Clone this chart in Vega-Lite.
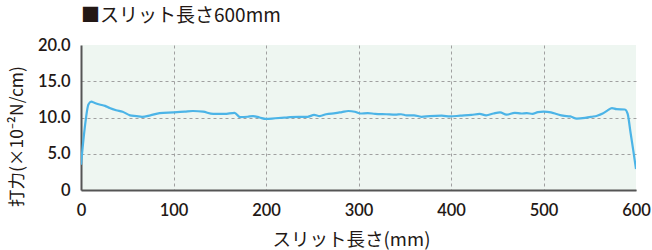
{
  "$schema": "https://vega.github.io/schema/vega-lite/v6.json",
  "autosize": "none",
  "width": 555,
  "height": 145,
  "padding": {"left": 81, "top": 45, "right": 16, "bottom": 60},
  "background": "white",
  "title": {
    "text": "■スリット長さ600mm",
    "anchor": "start",
    "frame": "group",
    "font": "Noto Sans CJK JP",
    "fontSize": 19,
    "fontWeight": 400,
    "color": "#231815",
    "offset": 11,
    "dx": 0
  },
  "config": {
    "view": {"fill": "#eef6f1", "stroke": null},
    "axis": {
      "labelFont": "Lato",
      "labelFontSize": 16.5,
      "labelFontWeight": 600,
      "labelColor": "#231815",
      "titleFont": "Noto Sans CJK JP",
      "titleFontSize": 16.5,
      "titleFontWeight": 400,
      "titleColor": "#231815",
      "ticks": false,
      "domainColor": "#555555",
      "domainWidth": 2,
      "gridDash": [3, 3],
      "gridWidth": 1
    }
  },
  "data": {
    "values": [
      {"x": 0, "y": 3.5},
      {"x": 4, "y": 8.5},
      {"x": 8, "y": 11.8},
      {"x": 11, "y": 12.2},
      {"x": 15, "y": 12.0},
      {"x": 20, "y": 11.8},
      {"x": 26, "y": 11.6},
      {"x": 31, "y": 11.3},
      {"x": 38, "y": 11.0},
      {"x": 45, "y": 10.8},
      {"x": 53, "y": 10.3},
      {"x": 60, "y": 10.2},
      {"x": 66, "y": 10.1},
      {"x": 75, "y": 10.3},
      {"x": 85, "y": 10.6},
      {"x": 100, "y": 10.7},
      {"x": 112, "y": 10.8},
      {"x": 121, "y": 10.9},
      {"x": 132, "y": 10.8},
      {"x": 143, "y": 10.5},
      {"x": 155, "y": 10.5},
      {"x": 166, "y": 10.65},
      {"x": 172, "y": 10.05},
      {"x": 180, "y": 10.1},
      {"x": 186, "y": 10.2},
      {"x": 193, "y": 10.0},
      {"x": 200, "y": 9.8},
      {"x": 210, "y": 9.9},
      {"x": 222, "y": 10.0},
      {"x": 235, "y": 10.1},
      {"x": 245, "y": 10.1},
      {"x": 252, "y": 10.35},
      {"x": 258, "y": 10.2},
      {"x": 265, "y": 10.45},
      {"x": 275, "y": 10.6},
      {"x": 282, "y": 10.75},
      {"x": 289, "y": 10.9},
      {"x": 296, "y": 10.8},
      {"x": 302, "y": 10.55},
      {"x": 310, "y": 10.6},
      {"x": 318, "y": 10.5},
      {"x": 330, "y": 10.45},
      {"x": 340, "y": 10.4},
      {"x": 346, "y": 10.45},
      {"x": 352, "y": 10.3},
      {"x": 360, "y": 10.3},
      {"x": 368, "y": 10.1},
      {"x": 377, "y": 10.2},
      {"x": 390, "y": 10.25},
      {"x": 399, "y": 10.15},
      {"x": 410, "y": 10.25},
      {"x": 422, "y": 10.35},
      {"x": 431, "y": 10.5},
      {"x": 438, "y": 10.3},
      {"x": 446, "y": 10.55},
      {"x": 453, "y": 10.7},
      {"x": 460, "y": 10.4},
      {"x": 469, "y": 10.65},
      {"x": 476, "y": 10.55},
      {"x": 482, "y": 10.6},
      {"x": 488, "y": 10.5},
      {"x": 494, "y": 10.75},
      {"x": 500, "y": 10.8},
      {"x": 508, "y": 10.7},
      {"x": 515, "y": 10.45},
      {"x": 521, "y": 10.25},
      {"x": 529, "y": 10.15},
      {"x": 536, "y": 9.85},
      {"x": 545, "y": 9.95},
      {"x": 552, "y": 10.1},
      {"x": 558, "y": 10.25},
      {"x": 564, "y": 10.55},
      {"x": 569, "y": 10.95},
      {"x": 574, "y": 11.3},
      {"x": 579, "y": 11.15},
      {"x": 588, "y": 11.1},
      {"x": 591, "y": 10.5},
      {"x": 594, "y": 8.0},
      {"x": 597, "y": 5.5},
      {"x": 600, "y": 2.9}
    ]
  },
  "mark": {"type": "line", "color": "#4cb4e7", "strokeWidth": 2.2, "interpolate": "monotone", "clip": true},
  "encoding": {
    "x": {
      "field": "x",
      "type": "quantitative",
      "scale": {"domain": [0, 600], "nice": false},
      "axis": {
        "values": [0, 100, 200, 300, 400, 500, 600],
        "title": "スリット長さ(mm)",
        "titleFontSize": 18.5,
        "labelPadding": 12,
        "titleX": 270,
        "titleY": 49,
        "titleBaseline": "middle",
        "titleAlign": "center",
        "labelFlush": false,
        "gridColor": {"condition": {"test": "datum.value == 600 || datum.value == 0", "value": "transparent"}, "value": "#a0a0a0"}
      }
    },
    "y": {
      "field": "y",
      "type": "quantitative",
      "scale": {"domain": [0, 20], "nice": false},
      "axis": {
        "values": [0, 5, 10, 15, 20],
        "title": "打力(×10⁻²N/cm)",
        "titleFontSize": 17.5,
        "labelExpr": "datum.value == 0 ? '0' : format(datum.value, '.1f')",
        "labelPadding": 11,
        "titleX": -64,
        "titleY": 91,
        "titleBaseline": "middle",
        "titleAlign": "center",
        "gridColor": {"condition": {"test": "datum.value == 20", "value": "transparent"}, "value": "#a0a0a0"}
      }
    }
  }
}
